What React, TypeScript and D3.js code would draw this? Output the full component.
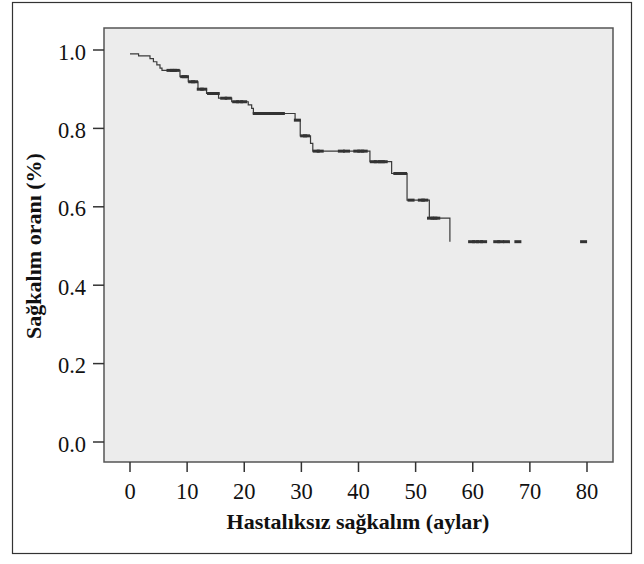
import React from "react";
import * as d3 from "d3";

// Kaplan-Meier step: event times (months) and survival after each event
const eventTimes = [0, 1.5, 3.5, 4.1, 4.7, 5.25, 5.6, 8.75, 10.2, 11.9, 13.4, 15.5, 17.8, 20.7, 21.3, 21.6, 28.9, 29.8, 31.6, 32.0, 42.0, 45.8, 48.5, 52.4, 56.0];
const eventSurvival = [0.99, 0.985, 0.978, 0.97, 0.962, 0.954, 0.948, 0.932, 0.919, 0.9, 0.889, 0.877, 0.868, 0.86, 0.851, 0.838, 0.821, 0.781, 0.762, 0.742, 0.715, 0.685, 0.617, 0.571, 0.511];

// censored observations (months)
const censorTimes = [
  7.0, 7.6, 8.1,
  9.4, 9.7,
  10.8, 11.3,
  12.3, 12.9,
  14.1, 14.7, 15.1,
  16.4, 17.2,
  18.5, 19.2, 19.9,
  22.1, 22.8, 23.5, 24.2, 25.1, 25.7, 26.5,
  29.3,
  30.4, 30.9,
  32.6, 33.3, 37.0, 37.9, 39.7, 40.4, 41.0,
  42.6, 43.3, 44.0, 44.5,
  46.7, 47.3, 47.9,
  49.2, 51.0, 51.6,
  52.6, 53.2, 53.7,
  59.8, 60.5, 61.2, 61.9, 64.2, 64.9, 65.9, 67.9, 79.4,
];

const xTicks = [0, 10, 20, 30, 40, 50, 60, 70, 80];
const yTicks = [0, 0.2, 0.4, 0.6, 0.8, 1.0];

const xTitle = "Hastalıksız sağkalım (aylar)";
const yTitle = "Sağkalım oranı (%)";

export default function App() {
  const x = d3.scaleLinear().domain([0, 80]).range([130, 587]);
  const y = d3.scaleLinear().domain([0, 1]).range([442, 50]);
  const plot = { left: 104, top: 28, right: 613, bottom: 462 };

  const pts: [number, number][] = eventTimes.map((t, i) => [t, eventSurvival[i]]);
  const line = d3
    .line<[number, number]>()
    .x((d) => x(d[0]))
    .y((d) => y(d[1]))
    .curve(d3.curveStepAfter);

  const survAt = (t: number) => {
    let s = eventSurvival[0];
    for (let i = 0; i < eventTimes.length; i++) {
      if (eventTimes[i] <= t) s = eventSurvival[i];
    }
    return s;
  };

  const font = "'Liberation Serif', 'Times New Roman', serif";

  return (
    <>
      <style>{"body{margin:0}"}</style>
      <svg width={644} height={564} style={{ display: "block", background: "#fff" }}>
        <rect x={12.5} y={2.5} width={619} height={551} fill="#fff" stroke="#333" strokeWidth={1.2} />
        <rect
          x={plot.left}
          y={plot.top}
          width={plot.right - plot.left}
          height={plot.bottom - plot.top}
          fill="#ececec"
          stroke="#555"
          strokeWidth={1.5}
        />
        {/* y axis ticks */}
        {yTicks.map((v) => (
          <g key={"y" + v}>
            <line x1={93} x2={plot.left} y1={y(v)} y2={y(v)} stroke="#333" strokeWidth={1.5} />
            <text
              x={86}
              y={y(v) + 9.5}
              textAnchor="end"
              fontFamily={font}
              fontSize={22.5}
              fill="#111"
            >
              {v.toFixed(1)}
            </text>
          </g>
        ))}
        {/* x axis ticks */}
        {xTicks.map((v) => (
          <g key={"x" + v}>
            <line x1={x(v)} x2={x(v)} y1={plot.bottom} y2={472} stroke="#333" strokeWidth={1.5} />
            <text x={x(v)} y={499} textAnchor="middle" fontFamily={font} fontSize={22.5} fill="#111">
              {v}
            </text>
          </g>
        ))}
        {/* survival curve */}
        <path d={line(pts) || ""} fill="none" stroke="#3a3a3a" strokeWidth={1.2} />
        {/* censor marks */}
        {censorTimes.map((t, i) => (
          <line
            key={"c" + i}
            x1={x(t) - 3.5}
            x2={x(t) + 3.5}
            y1={y(survAt(t))}
            y2={y(survAt(t))}
            stroke="#333"
            strokeWidth={3}
          />
        ))}
        <text
          x={358}
          y={529}
          textAnchor="middle"
          fontFamily={font}
          fontWeight="bold"
          fontSize={22}
          fill="#111"
        >
          {xTitle}
        </text>
        <text
          transform={`translate(41,246) rotate(-90)`}
          textAnchor="middle"
          fontFamily={font}
          fontWeight="bold"
          fontSize={22}
          fill="#111"
        >
          {yTitle}
        </text>
      </svg>
    </>
  );
}
